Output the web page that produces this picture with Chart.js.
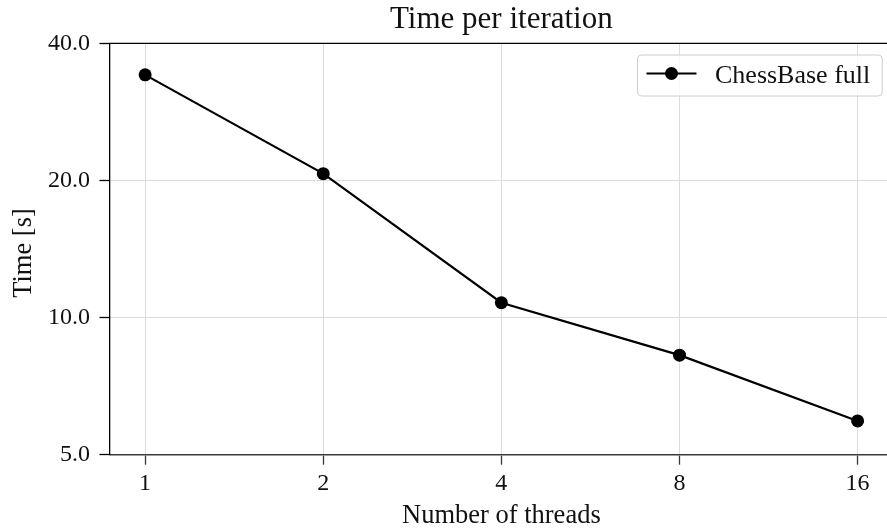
<!DOCTYPE html>
<html>
<head>
<meta charset="utf-8">
<script src="https://cdn.jsdelivr.net/npm/chart.js@4.4.1/dist/chart.umd.min.js"></script>
<style>
  html, body { margin: 0; padding: 0; background: #fff; overflow: hidden; }
  #wrap { width: 887px; height: 530px; position: relative; }
</style>
</head>
<body>
<div id="wrap"><canvas id="c" width="887" height="530"></canvas></div>
<script>
// ---- data ----
const threads = [1, 2, 4, 8, 16];
const timePerIter = [34.1, 20.7, 10.78, 8.27, 5.93];
const xTicks = [1, 2, 4, 8, 16];
const yTicks = [5, 10, 20, 40];
const seriesLabel = 'ChessBase full';
const chartTitle = 'Time per iteration';
const xLabel = 'Number of threads';
const yLabel = 'Time [s]';

const FONT = '"Liberation Serif", "Times New Roman", serif';
// the original axes run to 2^4.2 but the picture is cropped at about 2^4.165
const X_FULL_MAX = Math.pow(2, 4.2);

const overlay = {
  id: 'overlay',
  afterDraw(chart) {
    const ctx = chart.ctx;
    const a = chart.chartArea;
    const fullRight = chart.scales.x.getPixelForValue(X_FULL_MAX);
    const cx = (a.left + fullRight) / 2;
    ctx.save();
    // top spine
    ctx.strokeStyle = '#000';
    ctx.lineWidth = 1.3;
    ctx.beginPath();
    ctx.moveTo(a.left - 0.6, a.top);
    ctx.lineTo(a.right + 2, a.top);
    ctx.stroke();

    ctx.fillStyle = '#111';
    // title
    ctx.font = '31px ' + FONT;
    ctx.textAlign = 'center';
    ctx.textBaseline = 'alphabetic';
    ctx.fillText(chartTitle, cx, 28);
    // x label
    ctx.font = '26.5px ' + FONT;
    ctx.fillText(xLabel, cx, 523);
    // y label
    ctx.save();
    ctx.translate(31, (a.top + a.bottom) / 2 + 4);
    ctx.rotate(-Math.PI / 2);
    ctx.fillText(yLabel, 0, 0);
    ctx.restore();

    // legend
    const ds = chart.data.datasets[0];
    const bx = 637.5, by = 55, bw = fullRight - 11 - bx, bh = 41, r = 4;
    ctx.beginPath();
    ctx.moveTo(bx + r, by);
    ctx.arcTo(bx + bw, by, bx + bw, by + bh, r);
    ctx.arcTo(bx + bw, by + bh, bx, by + bh, r);
    ctx.arcTo(bx, by + bh, bx, by, r);
    ctx.arcTo(bx, by, bx + bw, by, r);
    ctx.closePath();
    ctx.fillStyle = 'rgba(255,255,255,0.8)';
    ctx.fill();
    ctx.strokeStyle = '#cccccc';
    ctx.lineWidth = 1;
    ctx.stroke();
    const ly = by + 18.5;
    ctx.strokeStyle = ds.borderColor;
    ctx.lineWidth = ds.borderWidth;
    ctx.beginPath();
    ctx.moveTo(bx + 9, ly);
    ctx.lineTo(bx + 59, ly);
    ctx.stroke();
    ctx.fillStyle = ds.pointBackgroundColor;
    ctx.beginPath();
    ctx.arc(bx + 34, ly, ds.pointRadius, 0, Math.PI * 2);
    ctx.fill();
    ctx.fillStyle = '#111';
    ctx.font = '26px ' + FONT;
    ctx.textAlign = 'left';
    ctx.fillText(ds.label, bx + 77.5, by + 27.5);
    ctx.restore();
  }
};

new Chart(document.getElementById('c'), {
  type: 'line',
  data: {
    datasets: [{
      label: seriesLabel,
      data: threads.map((t, i) => ({ x: t, y: timePerIter[i] })),
      borderColor: '#000',
      backgroundColor: '#000',
      pointBackgroundColor: '#000',
      pointBorderColor: '#000',
      borderWidth: 2.2,
      pointRadius: 6.5,
      pointBorderWidth: 0,
      tension: 0,
      fill: false
    }]
  },
  options: {
    responsive: false,
    animation: false,
    events: [],
    layout: { autoPadding: false, padding: { top: 43.3, right: 0, left: 0, bottom: 0 } },
    plugins: { legend: { display: false }, title: { display: false }, tooltip: { enabled: false } },
    scales: {
      x: {
        type: 'logarithmic',
        min: Math.pow(2, -0.2),
        max: Math.pow(2, 4.165),
        afterBuildTicks: s => { s.ticks = xTicks.map(v => ({ value: v })); },
        afterFit: s => { s.height = 75.3; s.paddingLeft = 0; s.paddingRight = 0; },
        ticks: {
          callback: v => String(v),
          autoSkip: false, maxRotation: 0,
          color: '#111',
          font: { family: FONT, size: 24 },
          padding: 5
        },
        grid: { color: '#dcdcdc', lineWidth: 1, drawTicks: true, tickLength: 10, tickColor: '#3a3a3a', tickWidth: 1.3 },
        border: { display: true, color: '#3a3a3a', width: 1.6 }
      },
      y: {
        type: 'logarithmic',
        min: 5,
        max: 40,
        afterBuildTicks: s => { s.ticks = yTicks.map(v => ({ value: v })); },
        afterFit: s => { s.width = 109.5; s.paddingTop = 0; s.paddingBottom = 0; },
        ticks: {
          callback: v => Number(v).toFixed(1),
          autoSkip: false,
          color: '#111',
          font: { family: FONT, size: 24 },
          padding: 9.5
        },
        grid: { color: '#dcdcdc', lineWidth: 1, drawTicks: true, tickLength: 10, tickColor: '#000', tickWidth: 1.3 },
        border: { display: true, color: '#000', width: 1.3 }
      }
    }
  },
  plugins: [overlay]
});
</script>
</body>
</html>
